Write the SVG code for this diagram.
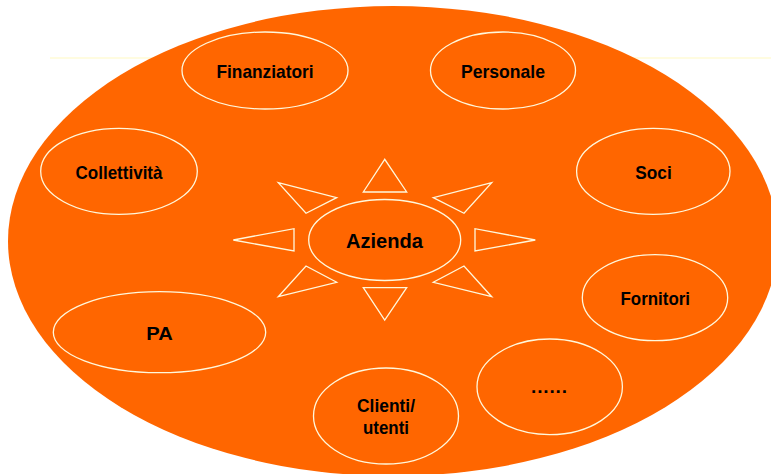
<svg xmlns="http://www.w3.org/2000/svg" width="771" height="474" viewBox="0 0 771 474">
  <style>
    .bubble { fill: none; stroke: #FFF8DC; stroke-width: 1.3; }
    .ray { fill: none; stroke: #FFF8DC; stroke-width: 1.3; stroke-linejoin: miter; }
    .label { font-family: "Liberation Sans", Arial, sans-serif; font-weight: bold; font-size: 19px; fill: #000; text-anchor: middle; }
    .center-label { font-size: 21px; }
  </style>

  <rect width="771" height="474" fill="#FFFFFF"/>

  <!-- faint guide line behind the disc -->
  <line x1="50" y1="58" x2="771" y2="58" stroke="#FFFBD6" stroke-width="1.5"/>

  <!-- large orange disc -->
  <ellipse id="background" cx="393" cy="241" rx="385" ry="235" fill="#FF6600"/>

  <!-- rays around the central node -->
  <g id="rays" class="ray">
    <polygon points="384.7,159.3 363.3,192 406.7,192"/>
    <polygon points="363.3,287.7 406.7,287.7 384.7,320"/>
    <polygon points="233.3,240 294,228.7 294,251"/>
    <polygon points="535.3,240 475,228.7 475,251"/>
    <polygon points="278.3,182.7 336.7,197.7 306,213.3"/>
    <polygon points="491.7,182.7 433.3,197.7 464,213.3"/>
    <polygon points="278.3,296.7 336.7,282.3 306,266"/>
    <polygon points="491.7,296.7 433.3,282.3 464,266"/>
  </g>

  <g id="azienda">
    <ellipse class="bubble" cx="384.7" cy="240" rx="76" ry="40.5"/>
    <text class="label center-label" x="384.5" y="247.5" textLength="77" lengthAdjust="spacingAndGlyphs">Azienda</text>
  </g>

  <g id="finanziatori">
    <ellipse class="bubble" cx="265" cy="70.5" rx="83" ry="38.5"/>
    <text class="label" x="265" y="78.3" textLength="97" lengthAdjust="spacingAndGlyphs">Finanziatori</text>
  </g>

  <g id="personale">
    <ellipse class="bubble" cx="503" cy="70.5" rx="72.5" ry="38.5"/>
    <text class="label" x="503" y="78.3" textLength="84" lengthAdjust="spacingAndGlyphs">Personale</text>
  </g>

  <g id="collettivita">
    <ellipse class="bubble" cx="119" cy="171.3" rx="78.3" ry="43"/>
    <text class="label" x="119" y="179" textLength="87" lengthAdjust="spacingAndGlyphs">Collettività</text>
  </g>

  <g id="soci">
    <ellipse class="bubble" cx="653.3" cy="171.3" rx="76.7" ry="43"/>
    <text class="label" x="653.5" y="179" textLength="36.5" lengthAdjust="spacingAndGlyphs">Soci</text>
  </g>

  <g id="pa">
    <ellipse class="bubble" cx="159.5" cy="332.2" rx="106.2" ry="40.5"/>
    <text class="label" x="159.5" y="339.7" textLength="26.5" lengthAdjust="spacingAndGlyphs">PA</text>
  </g>

  <g id="fornitori">
    <ellipse class="bubble" cx="655" cy="297.7" rx="72.7" ry="43"/>
    <text class="label" x="655.3" y="304.7" textLength="69.5" lengthAdjust="spacingAndGlyphs">Fornitori</text>
  </g>

  <g id="altri">
    <ellipse class="bubble" cx="549.7" cy="386.8" rx="72.7" ry="47.8"/>
    <text class="label" x="549" y="393.3" textLength="36" lengthAdjust="spacing">......</text>
  </g>

  <g id="clienti">
    <ellipse class="bubble" cx="386" cy="416" rx="72.5" ry="48"/>
    <text class="label" x="386" y="411.7" textLength="58" lengthAdjust="spacingAndGlyphs">Clienti/</text>
    <text class="label" x="386" y="434" textLength="46" lengthAdjust="spacingAndGlyphs">utenti</text>
  </g>

  <!-- no connectors are drawn between nodes -->
  <g id="connectors"/>
</svg>
